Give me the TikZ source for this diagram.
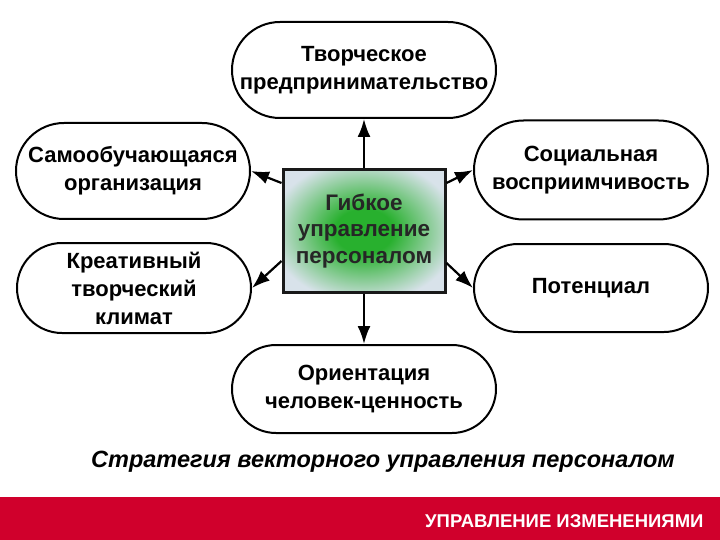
\documentclass[tikz,border=0pt]{standalone}
\usepackage{fontspec}
\setmainfont{Liberation Sans}
\usetikzlibrary{arrows.meta,positioning,shapes.misc}

\definecolor{hubgreen}{RGB}{40,176,46}
\definecolor{hubgray}{RGB}{216,226,234}
\definecolor{barred}{RGB}{208,0,44}
\pgfdeclareradialshading{hubshade}{\pgfpoint{0bp}{0bp}}{%
  color(0bp)=(hubgreen); color(9bp)=(hubgreen);
  color(29bp)=(hubgray); color(50bp)=(hubgray)}

\begin{document}
\begin{tikzpicture}[
    x=1pt, y=-1pt,
    >={Latex[length=18pt,width=13pt]},
    font=\bfseries\fontsize{22}{28}\selectfont,
    idea/.style={
		rounded rectangle,
		draw=black,
		line width=2pt,
		fill=white,
		align=center,
		inner sep=0pt,
		minimum width=234pt,
		minimum height=96pt
	},
	hub/.style={
		rectangle,
		draw=black!90,
		line width=3pt,
		shading=hubshade,
		text=black!85,
		align=center,
		inner sep=0pt,
		minimum width=162pt,
		minimum height=123pt,
		font=\bfseries\fontsize{22.5}{26.5}\selectfont
	},
	arr/.style={
		->,
		line width=2.2pt
	}
  ]
  \useasboundingbox (0,0) rectangle (720,540);
    % blocks

  \node [hub] (gup) at (364,231) {Гибкое\\управление\\персоналом};

  \node [idea, minimum width=264pt, above=49pt of gup] (tvorch) {Творческое\\предпринимательство};
  \node [idea, minimum width=264pt, minimum height=88pt, below=50pt of gup] (orient) {Ориентация\\человек-ценность};

  \node [idea] (samo) at (133,171) {Самообучающаяся\\организация};
  \node [idea, minimum height=90pt] (kreat) at (134,288) {Креативный\\творческий\\климат};
  \node [idea, minimum height=99pt] (soc) at (591,170) {Социальная\\восприимчивость};
  \node [idea, minimum height=88pt] (pot) at (591,288) {Потенциал};

 \draw [arr] (gup.north) -- (tvorch.south);
 \draw [arr] (gup.south) -- (orient.north);
 \draw [arr] ([yshift=-15pt]gup.north west) -- (samo.east);
 \draw [arr] ([yshift=33pt]gup.south west) -- (kreat.east);
 \draw [arr] ([yshift=-15pt]gup.north east) -- (soc.west);
 \draw [arr] ([yshift=31pt]gup.south east) -- (pot.west);

  % caption and bar
  \node [font=\bfseries\itshape\fontsize{23.5}{28}\selectfont] (title) at (383,462) {Стратегия векторного управления персоналом};
  \fill [barred] (0,497) rectangle (720,540);
  \node [anchor=east, text=white, font=\bfseries\fontsize{18.5}{22}\selectfont] (bar) at (707,521) {УПРАВЛЕНИЕ ИЗМЕНЕНИЯМИ};

\end{tikzpicture}
\end{document}
